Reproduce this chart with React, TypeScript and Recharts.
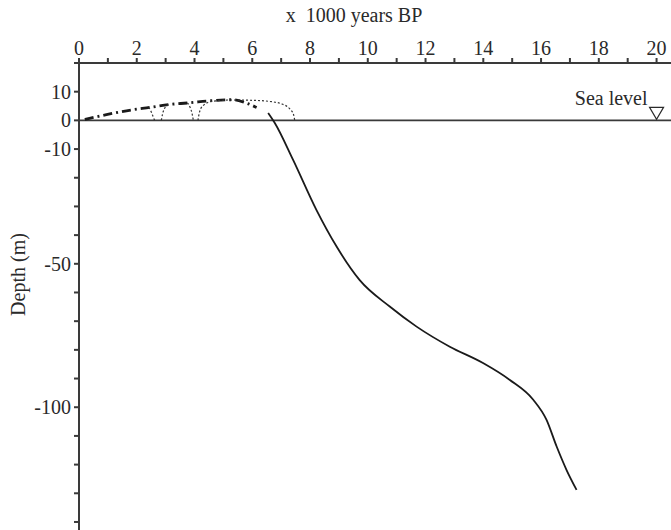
import { LineChart, Line, XAxis, YAxis, ReferenceLine, ReferenceDot, Label } from 'recharts';

const FONT = '"Liberation Serif", "DejaVu Serif", serif';
const FS = 20;

// tick values (x: 1000 years BP, y: depth in m)
const xTicks = [0, 1, 2, 3, 4, 5, 6, 7, 8, 9, 10, 11, 12, 13, 14, 15, 16, 17, 18, 19, 20];
const xLabelled = [0, 2, 4, 6, 8, 10, 12, 14, 16, 18, 20];
const yTicks = [20, 10, 0, -10, -20, -30, -40, -50, -60, -70, -80, -90, -100, -110, -120, -130, -140];
const yLabelled = [10, 0, -10, -50, -100];

// holocene highstand (thick dash-dot)
const holoceneX = [0.2, 0.95, 1.85, 2.45, 3.1, 3.8, 4.6, 5.35, 5.8, 6.15];
const holoceneY = [0.3, 2.0, 3.7, 4.5, 5.5, 6.1, 6.9, 7.2, 6.0, 4.5];

// dotted arcs
const arc1X = [2.42, 2.5, 2.57, 2.62];
const arc1Y = [4.5, 3.0, 1.2, 0];
const arc2X = [2.85, 2.9, 2.98, 3.1];
const arc2Y = [0, 2.5, 4.5, 5.5];
const arc3X = [3.75, 3.85, 3.92, 3.96];
const arc3Y = [6.1, 4.5, 2.2, 0];
const arc4X = [4.12, 4.17, 4.3, 4.6, 5.2, 6.0, 6.6, 7.0, 7.3, 7.43, 7.47];
const arc4Y = [0, 2.8, 5.2, 6.6, 7.1, 7.0, 6.6, 5.8, 4.0, 2.0, 0];

// transgression curve (solid)
const curveX = [6.55, 6.78, 7.41, 8.22, 8.92, 9.72, 10.76, 11.69, 12.84, 13.99, 14.92, 15.73, 16.19, 16.54, 16.88, 17.23];
const curveY = [2.6, -0.9, -13.7, -31.2, -44.0, -55.7, -64.9, -71.9, -78.9, -84.6, -90.5, -97.4, -104.4, -113.7, -121.8, -128.8];

const zip = (xs: number[], ys: number[]) => xs.map((x, i) => ({ x, y: ys[i] }));

const holocene = zip(holoceneX, holoceneY);
const arcs = [zip(arc1X, arc1Y), zip(arc2X, arc2Y), zip(arc3X, arc3Y), zip(arc4X, arc4Y)];
const curve = zip(curveX, curveY);

const axisColor = '#3a3a3a';
const textColor = '#2a2a2a';

function SeaLevelMark(props: any) {
  const { cx, cy } = props;
  if (cx == null || cy == null) return null;
  return (
    <g>
      <polygon
        points={`${cx - 7},${cy - 13} ${cx + 7},${cy - 13} ${cx},${cy - 1}`}
        fill="none"
        stroke={textColor}
        strokeWidth={1.2}
      />
      <text x={cx - 9} y={cy - 15} textAnchor="end" fontSize={FS} fontFamily={FONT} fill={textColor}>
        Sea level
      </text>
    </g>
  );
}

export default function App() {
  return (
    <div style={{ position: 'absolute', left: 0, top: 0, background: '#fff' }}>
      <LineChart width={671} height={530} margin={{ top: 0, right: 0, bottom: 0, left: 0 }}>
        <XAxis
          type="number"
          dataKey="x"
          orientation="top"
          height={63}
          domain={[0, 20.5]}
          allowDataOverflow
          ticks={xTicks}
          interval={0}
          tickSize={5}
          tickMargin={3}
          stroke={axisColor}
          strokeWidth={2}
          tick={{ fontSize: FS, fontFamily: FONT, fill: textColor }}
          tickFormatter={(v: number) => (xLabelled.includes(v) ? String(v) : '')}
        >
          <Label
            content={(p: any) => {
              const vb = p.viewBox;
              return (
                <text
                  x={vb.x + vb.width / 2 - 21}
                  y={22}
                  textAnchor="middle"
                  fontSize={FS}
                  fontFamily={FONT}
                  fill={textColor}
                  style={{ whiteSpace: 'pre' }}
                >
                  {'x\u00a0 1000 years BP'}
                </text>
              );
            }}
          />
        </XAxis>
        <YAxis
          type="number"
          dataKey="y"
          width={79}
          domain={[-142.8, 20]}
          allowDataOverflow
          ticks={yTicks}
          interval={0}
          tickSize={5}
          tickMargin={3}
          stroke={axisColor}
          strokeWidth={2}
          tick={{ fontSize: FS, fontFamily: FONT, fill: textColor }}
          tickFormatter={(v: number) => (yLabelled.includes(v) ? String(v) : '')}
        >
          <Label
            content={(p: any) => {
              const vb = p.viewBox;
              const cy = vb.y + vb.height / 2 - 22;
              return (
                <text
                  x={25}
                  y={cy}
                  transform={`rotate(-90, 25, ${cy})`}
                  textAnchor="middle"
                  fontSize={FS}
                  fontFamily={FONT}
                  fill={textColor}
                >
                  Depth (m)
                </text>
              );
            }}
          />
        </YAxis>
        <ReferenceLine y={0} stroke={axisColor} strokeWidth={1.8} />
        <Line
          data={holocene}
          dataKey="y"
          type="monotone"
          stroke="#1a1a1a"
          strokeWidth={2.8}
          strokeDasharray="9 4 2 4"
          dot={false}
          isAnimationActive={false}
        />
        {arcs.map((arc, i) => (
          <Line
            key={i}
            data={arc}
            dataKey="y"
            type="monotone"
            stroke="#333"
            strokeWidth={1.2}
            strokeDasharray="2 2"
            dot={false}
            isAnimationActive={false}
          />
        ))}
        <Line
          data={curve}
          dataKey="y"
          type="monotone"
          stroke="#1a1a1a"
          strokeWidth={1.8}
          dot={false}
          isAnimationActive={false}
        />
        <ReferenceDot x={20} y={0} r={0} ifOverflow="visible" shape={SeaLevelMark} />
      </LineChart>
    </div>
  );
}
